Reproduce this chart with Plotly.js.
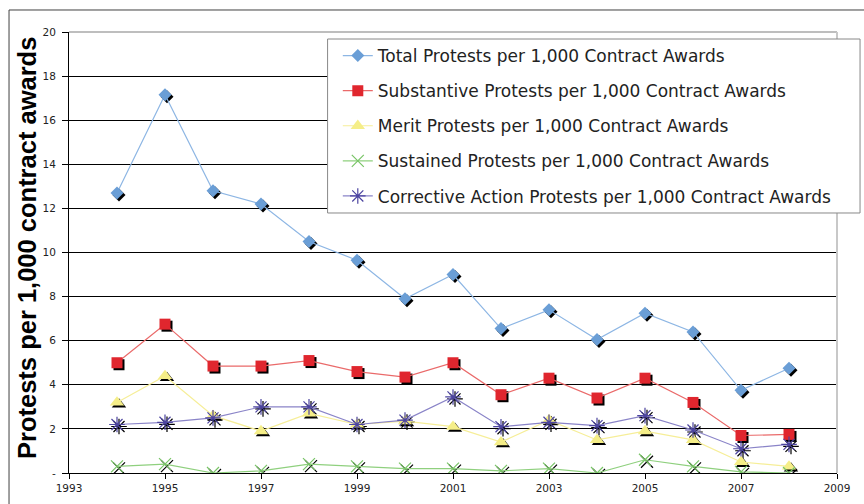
<!DOCTYPE html>
<html>
<head>
<meta charset="utf-8">
<script src="https://cdn.plot.ly/plotly-3.0.1.min.js"></script>
<style>html,body{margin:0;padding:0;background:#fff;}#chart{width:864px;height:504px;}</style>
</head>
<body>
<div id="chart"></div>
<script>
// ---- data ----
const years = [1994,1995,1996,1997,1998,1999,2000,2001,2002,2003,2004,2005,2006,2007,2008];
const totalProtests      = [12.7,17.15,12.8,12.2,10.5,9.65,7.9,9.0,6.55,7.4,6.05,7.25,6.4,3.75,4.75];
const substantiveProtests= [5.0,6.75,4.85,4.85,5.1,4.6,4.35,5.0,3.55,4.3,3.4,4.3,3.2,1.7,1.75];
const meritProtests      = [3.2,4.4,2.6,1.9,2.7,2.2,2.35,2.1,1.4,2.4,1.5,1.9,1.5,0.5,0.3];
const sustainedProtests  = [0.3,0.4,0.0,0.1,0.4,0.3,0.2,0.2,0.1,0.2,0.0,0.6,0.3,0.05,0.0];
const correctiveProtests = [2.2,2.3,2.5,3.0,3.0,2.2,2.4,3.45,2.1,2.3,2.15,2.6,1.95,1.1,1.3];
const seriesNames = [
  "Total Protests per 1,000 Contract Awards",
  "Substantive Protests per 1,000 Contract Awards",
  "Merit Protests per 1,000 Contract Awards",
  "Sustained Protests per 1,000 Contract Awards",
  "Corrective Action Protests per 1,000 Contract Awards"
];
const yTickVals = [0,2,4,6,8,10,12,14,16,18,20];
const yTickText = ["-","2","4","6","8","10","12","14","16","18","20"];
const yTitle = "Protests per 1,000 contract awards";

// ---- styles ----
const styles = [
  {line:"#8db6e4", marker:{symbol:"diamond", size:10, color:"#6a9ed6"}},
  {line:"#ea6a6a", marker:{symbol:"square", size:11, color:"#e0262e"}},
  {line:"#f6ee98", marker:{symbol:"triangle-up", size:12.5, color:"#f5ee88"}},
  {line:"#8fd07e", marker:{symbol:"x-thin-open", size:12, color:"#78c466", line:{width:1.2, color:"#78c466"}}},
  {line:"#8a84c8", marker:{symbol:"asterisk-open", size:13, color:"#4c44a0", line:{width:1.2, color:"#4c44a0"}}}
];
const allSeries = [totalProtests, substantiveProtests, meritProtests, sustainedProtests, correctiveProtests];

const traces = [];
// shadows (base axes, shifted ranges)
allSeries.forEach((vals, i) => {
  const m = JSON.parse(JSON.stringify(styles[i].marker));
  m.color = "#000";
  if (m.line) m.line.color = "#222";
  traces.push({x: years, y: vals, xaxis:"x", yaxis:"y", mode:"markers", marker:m,
    showlegend:false, hoverinfo:"skip"});
});
// real series
allSeries.forEach((vals, i) => {
  traces.push({x: years, y: vals, xaxis:"x2", yaxis:"y2", mode:"lines+markers", name: seriesNames[i],
    legendgroup:"g"+i, line:{color:styles[i].line, width:1.2}, marker:styles[i].marker});
});

const pxX = 768/16, pxY = 441/20;
const sx = 2/pxX, sy = 2/pxY;

const layout = {
  width:864, height:504,
  margin:{l:69, r:27, t:32, b:31},
  paper_bgcolor:"#fff", plot_bgcolor:"rgba(0,0,0,0)",
  font:{family:"DejaVu Sans", size:11, color:"#222"},
  showlegend:true,
  xaxis:{range:[1993-sx, 2009-sx], visible:false, fixedrange:true},
  yaxis:{range:[0+sy, 20+sy], visible:false, fixedrange:true},
  xaxis2:{overlaying:"x", anchor:"y2", side:"bottom", range:[1993,2009], tick0:1993, dtick:2,
    showgrid:false, zeroline:false, showline:true, linecolor:"#000", linewidth:1,
    ticks:"outside", ticklen:5, tickcolor:"#000", tickfont:{family:"DejaVu Sans", size:10.5, color:"#222"}},
  yaxis2:{overlaying:"y", anchor:"x2", side:"left", range:[0,20], tickvals:yTickVals, ticktext:yTickText,
    showgrid:true, gridcolor:"#000", gridwidth:1, zeroline:false, showline:true, linecolor:"#000", linewidth:1,
    ticks:"outside", ticklen:6, tickcolor:"#000", ticklabelstandoff:4,
    tickfont:{family:"DejaVu Sans", size:10.5, color:"#222"}},
  legend:{x:0.350, y:0.9864, xanchor:"left", yanchor:"top", bgcolor:"rgba(0,0,0,0)", borderwidth:0,
    font:{family:"DejaVu Sans", size:17, color:"#222"}, itemwidth:30, tracegroupgap:10, traceorder:"grouped"},
  annotations:[{text:yTitle, xref:"paper", yref:"paper", x:-0.0547, y:0.5102, textangle:-90, showarrow:false,
    xanchor:"center", yanchor:"middle", font:{family:"Liberation Sans", size:25.5, color:"#000", weight:"bold"}}],
  shapes:[
    {type:"rect", xref:"paper", yref:"paper", x0:-0.0781, y0:-0.2, x1:1.1, y1:1.0499, line:{color:"#404040", width:1}, layer:"below"},
    {type:"line", xref:"paper", yref:"paper", x0:0, y0:1, x1:1, y1:1, line:{color:"#a8a8a8", width:1.5}, layer:"above"},
    {type:"line", xref:"paper", yref:"paper", x0:1, y0:0, x1:1, y1:1, line:{color:"#c8c8c8", width:2}, layer:"above"},
    {type:"rect", xref:"paper", yref:"paper", x0:0.3367, y0:0.5896, x1:1.030, y1:0.9841,
      fillcolor:"#fff", line:{color:"#888", width:1}, layer:"above"}
  ]
};

Plotly.newPlot("chart", traces, layout, {staticPlot:true, displayModeBar:false});
</script>
</body>
</html>
